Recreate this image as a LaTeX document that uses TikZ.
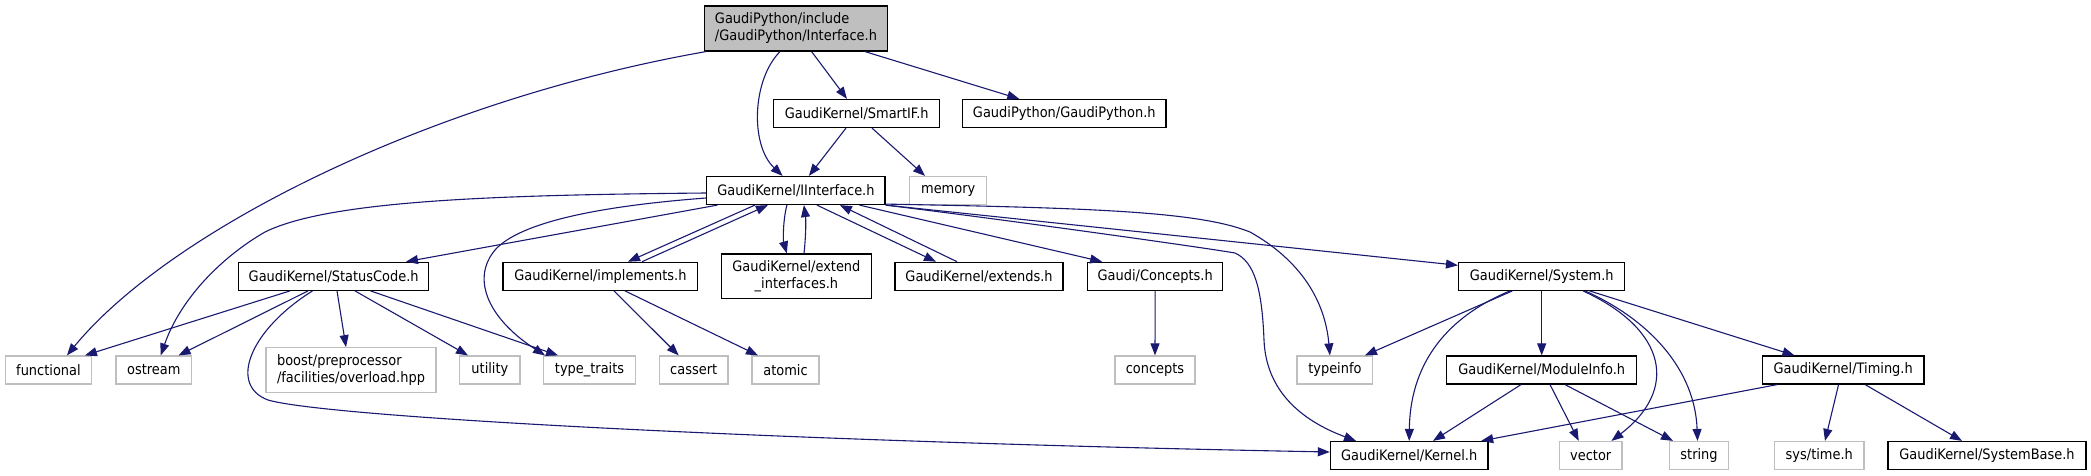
\documentclass[tikz,border=0pt]{standalone}
\usepackage{fontspec}
\setmainfont{DejaVu Sans}[FakeStretch=0.9]
\usetikzlibrary{arrows.meta}
\definecolor{edgec}{HTML}{191970}
\definecolor{grayb}{HTML}{BFBFBF}
\begin{document}
\begin{tikzpicture}[x=1pt,y=-1pt,
  box/.style={draw=black,line width=1.2pt,inner sep=0pt,minimum height=28pt,font=\fontsize{14.4}{17}\selectfont},
  sysbox/.style={draw=grayb,line width=1.2pt,inner sep=0pt,minimum height=28pt,font=\fontsize{14.4}{17}\selectfont},
  edge/.style={draw=edgec,line width=1.1pt,-{Triangle[length=12pt,width=9pt]}},
]
\useasboundingbox (0,0) rectangle (2091,476);
% row 1
\node[box,fill=grayb,minimum width=183pt,minimum height=45pt,align=left] (iface) at (796,28.5) {GaudiPython/include\\/GaudiPython/Interface.h};
% row 2
\node[box,minimum width=166pt] (smartif) at (856.7,113.5) {GaudiKernel/SmartIF.h};
\node[box,minimum width=203.5pt] (gpy) at (1064.25,113.5) {GaudiPython/GaudiPython.h};
% row 3
\node[box,minimum width=178.3pt] (iint) at (795.9,190.5) {GaudiKernel/IInterface.h};
\node[sysbox,minimum width=76.8pt] (memory) at (948.2,190.5) {memory};
% row 4
\node[box,minimum width=189.8pt] (status) at (333.7,276.3) {GaudiKernel/StatusCode.h};
\node[box,minimum width=194.8pt] (impl) at (600.4,276.3) {GaudiKernel/implements.h};
\node[box,minimum width=150pt,minimum height=44.7pt,align=center] (extif) at (796.4,276.3) {GaudiKernel/extend\\\_interfaces.h};
\node[box,minimum width=168pt] (extends) at (979,276.3) {GaudiKernel/extends.h};
\node[box,minimum width=135.3pt] (conch) at (1155.15,276.3) {Gaudi/Concepts.h};
\node[box,minimum width=166.2pt] (system) at (1541.7,276.3) {GaudiKernel/System.h};
% row 5
\node[sysbox,minimum width=86pt] (functional) at (48.45,370) {functional};
\node[sysbox,minimum width=75.5pt] (ostream) at (153.75,370) {ostream};
\node[sysbox,minimum width=170pt,minimum height=45pt,align=left] (boost) at (351,370.2) {boost/preprocessor\\/facilities/overload.hpp};
\node[sysbox,minimum width=60.2pt] (utility) at (489.9,370) {utility};
\node[sysbox,minimum width=91.5pt] (typetraits) at (589.55,370) {type\_traits};
\node[sysbox,minimum width=68.6pt] (cassert) at (693.7,370) {cassert};
\node[sysbox,minimum width=67pt] (atomic) at (785.5,370) {atomic};
\node[sysbox,minimum width=80pt] (conc) at (1155,370) {concepts};
\node[sysbox,minimum width=75.8pt] (typeinfo) at (1334.9,370) {typeinfo};
\node[box,minimum width=190pt] (modinfo) at (1541.7,370) {GaudiKernel/ModuleInfo.h};
\node[box,minimum width=161.7pt] (timing) at (1843.15,370) {GaudiKernel/Timing.h};
% row 6
\node[box,minimum width=157.6pt] (kernel) at (1409.2,455.5) {GaudiKernel/Kernel.h};
\node[sysbox,minimum width=62.5pt] (vector) at (1590.75,455.5) {vector};
\node[sysbox,minimum width=58.6pt] (string) at (1699,455.5) {string};
\node[sysbox,minimum width=89.4pt] (systime) at (1819.3,455.5) {sys/time.h};
\node[box,minimum width=198pt] (sysbase) at (1987,455.5) {GaudiKernel/SystemBase.h};

% edges from Interface.h
\draw[edge] ([xshift=2pt]iface.south west) .. controls (430,100) and (170,230) .. ([xshift=18.5pt]functional.north);
\draw[edge] ([xshift=-16pt]iface.south) .. controls (752,80) and (750,145) .. ([xshift=-13.3pt]iint.north);
\draw[edge] ([xshift=15.6pt]iface.south) -- ([xshift=-9.7pt]smartif.north);
\draw[edge] ([xshift=69pt]iface.south) -- ([xshift=-45pt]gpy.north);
% SmartIF
\draw[edge] ([xshift=-10.7pt]smartif.south) -- ([xshift=13pt]iint.north);
\draw[edge] ([xshift=15.3pt]smartif.south) -- ([xshift=-23.2pt]memory.north);
% IInterface
\draw[edge] ([yshift=-2.5pt]iint.west) .. controls (500,195) and (330,200) .. (265,232) .. controls (220,258) and (180,300) .. ([xshift=7pt]ostream.north);
\draw[edge] ([xshift=11.3pt]iint.south west) -- ([xshift=72.3pt]status.north);
\draw[edge] ([yshift=-7.5pt]iint.west) .. controls (600,206) and (520,222) .. (495,250) .. controls (470,280) and (490,320) .. ([xshift=-44.5pt]typetraits.north);
\draw[edge] ([xshift=-41pt]iint.south) -- ([xshift=27.6pt]impl.north);
\draw[edge] ([xshift=41.6pt]impl.north) -- ([xshift=-28pt]iint.south);
\draw[edge] ([xshift=-9pt]iint.south) .. controls (783,220) and (783,240) .. ([xshift=-9.6pt]extif.north);
\draw[edge] ([xshift=7.6pt]extif.north) .. controls (806,235) and (806,220) .. ([xshift=8pt]iint.south);
\draw[edge] ([xshift=21pt]iint.south) -- ([xshift=-43pt]extends.north);
\draw[edge] ([xshift=-22pt]extends.north) -- ([xshift=44pt]iint.south);
\draw[edge] ([xshift=63.6pt]iint.south) -- ([xshift=-53pt]conch.north);
\draw[edge] (iint.south east) .. controls (1000,219) and (1200,247) .. (1235,253) .. controls (1255,262) and (1262,290) .. (1264,340) .. controls (1266,390) and (1300,420) .. ([xshift=-53.2pt]kernel.north);
\draw[edge] ([yshift=1pt]iint.south east) .. controls (1100,208) and (1200,212) .. (1250,232) .. controls (1300,260) and (1325,300) .. ([xshift=-5pt]typeinfo.north);
\draw[edge] (iint.south east) -- ([yshift=11pt]system.west);
% StatusCode
\draw[edge] ([xshift=-43.7pt]status.south) -- ([xshift=36.5pt]functional.north);
\draw[edge] ([xshift=-25.7pt]status.south) -- ([xshift=24.8pt]ostream.north);
\draw[edge] ([xshift=-21.2pt]status.south) .. controls (250,330) and (228,385) .. (268,400) .. controls (330,418) and (800,442) .. ([yshift=3.5pt]kernel.west);
\draw[edge] ([xshift=3.3pt]status.south) -- ([xshift=-5pt]boost.north);
\draw[edge] ([xshift=21.3pt]status.south) -- ([xshift=-21.9pt]utility.north);
\draw[edge] ([xshift=36.8pt]status.south) -- ([xshift=-31.5pt]typetraits.north);
% implements
\draw[edge] ([xshift=13.6pt]impl.south) -- ([xshift=-15pt]cassert.north);
\draw[edge] ([xshift=24.6pt]impl.south) -- ([xshift=-27.5pt]atomic.north);
% Concepts
\draw[edge] (conch.south) -- (conc.north);
% System
\draw[edge] ([xshift=-29.3pt]system.south) -- ([xshift=30pt]typeinfo.north);
\draw[edge] ([xshift=-31.7pt]system.south) .. controls (1440,320) and (1410,370) .. (kernel.north);
\draw[edge] (system.south) -- (modinfo.north);
\draw[edge] ([xshift=41.3pt]system.south) .. controls (1668,330) and (1678,390) .. ([xshift=20.7pt]vector.north);
\draw[edge] ([xshift=43.3pt]system.south) .. controls (1650,320) and (1695,370) .. ([xshift=-1.5pt]string.north);
\draw[edge] ([xshift=47.8pt]system.south) -- ([xshift=-48.7pt]timing.north);
% ModuleInfo
\draw[edge] ([xshift=-20.7pt]modinfo.south) -- ([xshift=23.8pt]kernel.north);
\draw[edge] ([xshift=8.3pt]modinfo.south) -- ([xshift=-12pt]vector.north);
\draw[edge] ([xshift=23.3pt]modinfo.south) -- ([xshift=-26pt]string.north);
% Timing
\draw[edge] ([xshift=-66pt]timing.south) -- ([xshift=72pt]kernel.north);
\draw[edge] ([xshift=-4.6pt]timing.south) -- ([xshift=5.7pt]systime.north);
\draw[edge] ([xshift=22pt]timing.south) -- ([xshift=-25pt]sysbase.north);
\end{tikzpicture}
\end{document}
